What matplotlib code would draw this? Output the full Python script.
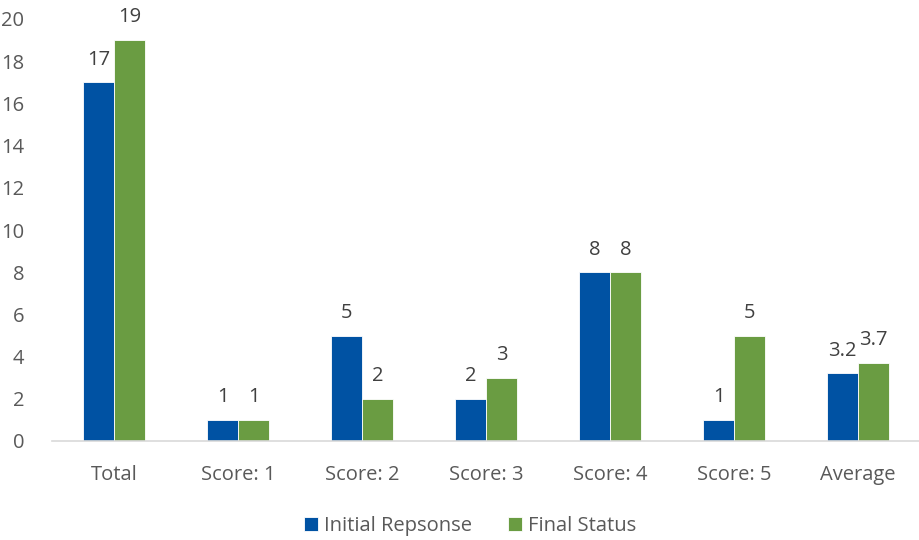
import numpy as np
import matplotlib.pyplot as plt

plt.rcParams['font.family'] = ['Open Sans', 'DejaVu Sans']

categories = ['Total', 'Score: 1', 'Score: 2', 'Score: 3', 'Score: 4', 'Score: 5', 'Average']
initial = [17, 1, 5, 2, 8, 1, 3.2]
final = [19, 1, 2, 3, 8, 5, 3.7]
series_names = ['Initial Repsonse', 'Final Status']

blue = '#0052A3'
green = '#6A9C42'

fig = plt.figure(figsize=(9.2, 5.4), dpi=100)
ax = fig.add_axes([52 / 920, 99 / 540, 868 / 920, 422 / 540])

x = np.arange(len(categories))
w = 0.25
b1 = ax.bar(x - w / 2, initial, w, color=blue, edgecolor='white', linewidth=0.6, label=series_names[0])
b2 = ax.bar(x + w / 2, final, w, color=green, edgecolor='white', linewidth=0.6, label=series_names[1])

for bars, vals in ((b1, initial), (b2, final)):
    for r, v in zip(bars, vals):
        ax.text(r.get_x() + r.get_width() / 2, v + 0.6, f'{v:g}', ha='center', va='bottom',
                fontsize=14.5, color='#404040')

ax.set_xlim(-0.5, len(categories) - 0.5)
ax.set_ylim(0, 20)
ax.set_yticks(range(0, 21, 2))
ax.set_xticks(x)
ax.set_xticklabels(categories)
ax.tick_params(axis='both', length=0, labelsize=14.5, colors='#595959')
ax.tick_params(axis='y', pad=20)
ax.tick_params(axis='x', pad=17)
for s in ['top', 'right', 'left']:
    ax.spines[s].set_visible(False)
ax.spines['bottom'].set_color('#D9D9D9')
ax.spines['bottom'].set_linewidth(1.2)

fig.legend(handles=[b1, b2], loc='center', bbox_to_anchor=(470 / 920, 14 / 540), ncol=2,
           frameon=False, fontsize=14.5, handlelength=0.7, handleheight=0.7, columnspacing=1.8,
           handletextpad=0.3, labelcolor='#595959')

fig.savefig('out.png', dpi=100)
